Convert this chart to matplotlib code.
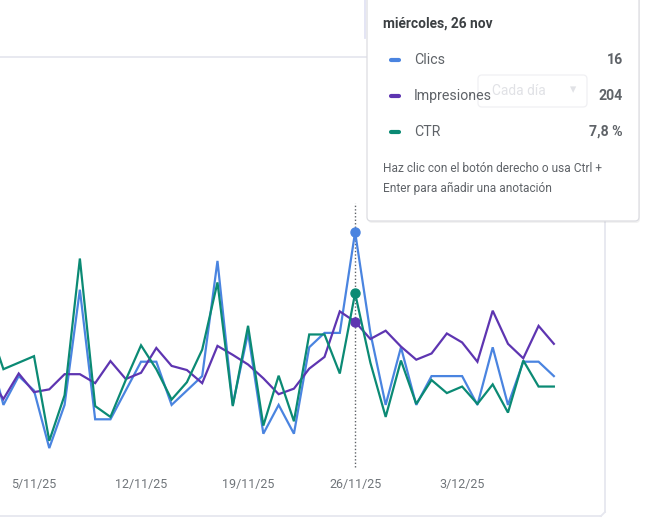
import numpy as np
import pandas as pd
import matplotlib
matplotlib.use('Agg')
import matplotlib.pyplot as plt
import matplotlib.dates as mdates
from matplotlib.patches import FancyBboxPatch

plt.rcParams['font.family'] = ['Roboto', 'DejaVu Sans']

# datos diarios (2/11/25 - 9/12/25)
dates = pd.date_range('2025-11-02', '2025-12-09', freq='D')
clics = [8, 4, 6, 5, 1, 4, 12, 3, 3, 5, 7, 7, 4, 5, 6, 14, 4, 9, 2, 4,
         2, 8, 9, 9, 16, 9, 4, 8, 4, 6, 6, 6, 4, 8, 4, 7, 7, 6]
impresiones = [125, 92, 129, 102, 106, 128, 128, 115, 147, 121, 130, 166, 140, 134, 115, 169, 156, 142, 122, 99,
               107, 136, 153, 219, 204, 179, 191, 168, 149, 158, 187, 174, 146, 220, 172, 151, 198, 172]
ctr = [6.4, 4.3, 4.6, 4.9, 1.0, 3.1, 9.4, 2.6, 2.1, 3.8, 5.4, 4.3, 2.9, 3.7, 5.2, 8.3, 2.6, 6.3, 1.7, 4.0,
       1.9, 5.9, 5.9, 4.1, 7.8, 4.6, 2.1, 4.7, 2.7, 3.8, 3.2, 3.5, 2.7, 3.6, 2.3, 4.7, 3.5, 3.5]

tick_dates = ['2025-11-05', '2025-11-12', '2025-11-19', '2025-11-26', '2025-12-03']
tick_labels = ['5/11/25', '12/11/25', '19/11/25', '26/11/25', '3/12/25']

hover_date = '2025-11-26'
hover_title = 'miércoles, 26 nov'
series_names = ['Clics', 'Impresiones', 'CTR']
colors = ['#4a84e0', '#5e35b1', '#0b8a74']

W, H = 646, 530
top_px, bottom_px, right_px = 60, 462.5, 605
px_per_day = 15.29
px_per_unit = [14.4, 0.69, 21.7]

fig = plt.figure(figsize=(W / 100, H / 100), dpi=100)
fig.patch.set_facecolor('white')

ax = fig.add_axes([0, (H - bottom_px) / H, right_px / W, (bottom_px - top_px) / H])
axes = [ax, ax.twinx(), ax.twinx()]

x = mdates.date2num(dates)
x0 = mdates.date2num(pd.Timestamp(tick_dates[0])) - 34 / px_per_day
hx = mdates.date2num(pd.Timestamp(hover_date))
hi = list(dates).index(pd.Timestamp(hover_date))

for a, vals, c, s in zip(axes, [clics, impresiones, ctr], colors, px_per_unit):
    a.plot(x, vals, color=c, lw=1.6, solid_joinstyle='miter')
    a.plot([hx], [vals[hi]], 'o', color=c, ms=6.5)
    a.set_ylim(0, (bottom_px - top_px) / s)
    a.set_xlim(x0, x0 + right_px / px_per_day)
    a.set_yticks([])
    a.patch.set_visible(False)
    for sp in a.spines.values():
        sp.set_visible(False)

ax.axvline(hx, ymin=-(467 - bottom_px) / (bottom_px - top_px), ymax=(bottom_px - 203) / (bottom_px - top_px),
           color='#5f6368', lw=1, ls=(0, (1, 1.5)), clip_on=False, zorder=0)

ax.set_xticks(mdates.date2num(pd.to_datetime(tick_dates)))
ax.set_xticklabels(tick_labels)
ax.tick_params(axis='x', length=0, pad=11, labelsize=9, labelcolor='#70757a')

# capa superior: tarjeta y tooltip
ov = fig.add_axes([0, 0, 1, 1], zorder=10)
ov.set_xlim(0, W)
ov.set_ylim(H, 0)
ov.axis('off')
ov.patch.set_alpha(0)

edge = '#e6e7ef'
ov.plot([0, 367], [57, 57], color=edge, lw=1.3, zorder=1)
ov.plot([365, 365], [0, 38], color='#e2e3f3', lw=1.3, zorder=1)
ov.plot([605, 605], [57, 512], color=edge, lw=1.3, zorder=1)
ov.plot([0, 601], [516, 516], color=edge, lw=1.3, zorder=1)
ov.plot([601, 605], [516, 512], color=edge, lw=1.3, zorder=1)

ov.add_patch(FancyBboxPatch((368, -10), 272, 233, boxstyle='round,pad=0,rounding_size=4',
                            fc='#000000', ec='none', alpha=0.05, zorder=3))
ov.add_patch(FancyBboxPatch((367, -10), 272, 231, boxstyle='round,pad=0,rounding_size=4',
                            fc='white', ec='#dcdde2', lw=0.9, zorder=4))

# controles detras del tooltip (casi transparentes)
ov.add_patch(FancyBboxPatch((478, 75), 109, 32, boxstyle='round,pad=0,rounding_size=4',
                            fc='none', ec='#f0f0f3', lw=0.9, zorder=5))
ov.text(492, 91, 'Cada día', fontsize=10, color='#e1e2e6', va='center', zorder=5)
ov.text(570, 90, '▾', fontsize=9, color='#e1e2e6', va='center', family=['DejaVu Sans'], zorder=5)

ov.text(383, 24, hover_title, fontsize=9.9, fontweight='bold', color='#3c4043', va='center', zorder=6)

values_txt = [str(clics[hi]), str(impresiones[hi]), ('%.1f %%' % ctr[hi]).replace('.', ',')]
for k, (name, c, v) in enumerate(zip(series_names, colors, values_txt)):
    yy = 60 + 36 * k
    ov.plot([391, 399], [yy, yy], color=c, lw=3, solid_capstyle='round', zorder=6)
    ov.text(414, yy, name, fontsize=10.2, color='#5f6368', va='center', zorder=6)
    ov.text(623, yy, v, fontsize=10.2, fontweight='bold', color='#5f6368', va='center', ha='right', zorder=6)

ov.text(383, 168, 'Haz clic con el botón derecho o usa Ctrl +', fontsize=8.6, color='#5f6368', va='center', zorder=6)
ov.text(383, 188, 'Enter para añadir una anotación', fontsize=8.6, color='#5f6368', va='center', zorder=6)

fig.savefig('out.png', dpi=100)
